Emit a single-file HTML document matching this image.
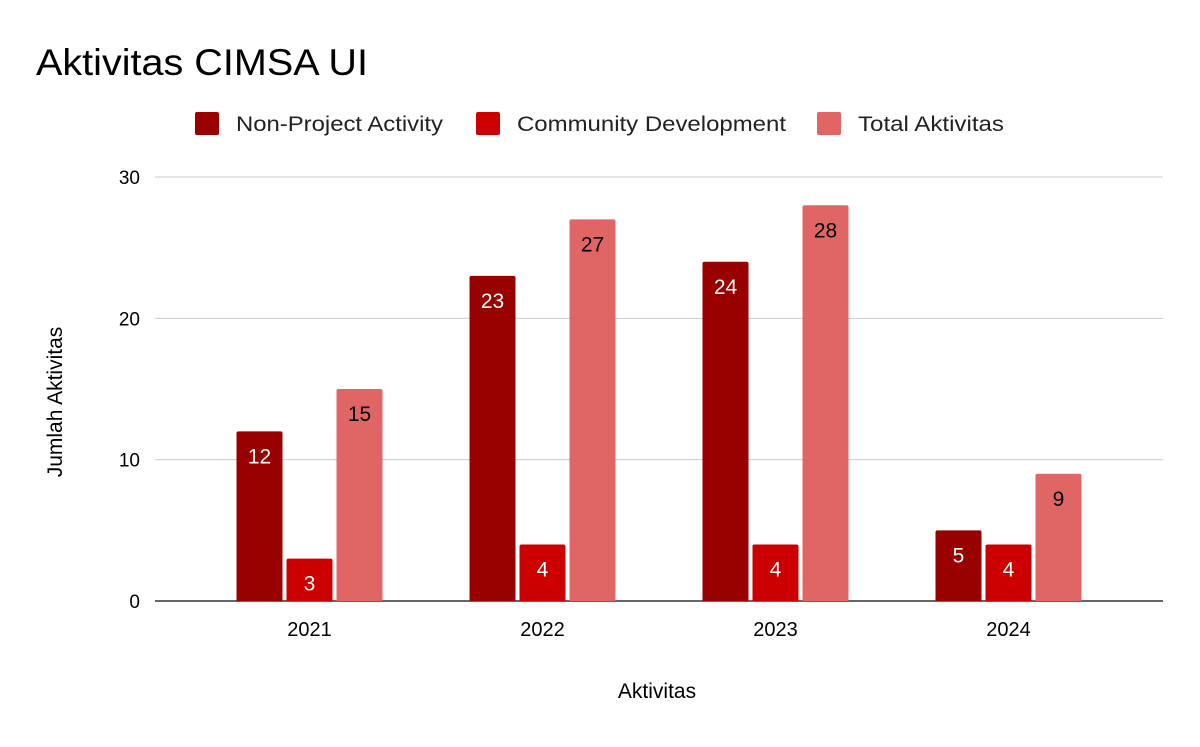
<!DOCTYPE html>
<html><head><meta charset="utf-8"><style>
body{margin:0;background:#fff;font-family:"Liberation Sans",sans-serif;}
svg text{font-family:"Liberation Sans",sans-serif;}
</style></head><body>
<svg id="chart" width="1200" height="742" xmlns="http://www.w3.org/2000/svg">
<rect width="1200" height="742" fill="#fff"/>
<text x="36" y="75" font-size="37" fill="#000" textLength="332" lengthAdjust="spacingAndGlyphs">Aktivitas CIMSA UI</text>
<g id="legend"></g>
<g id="grid"></g>
<g id="bars"></g>
<text x="657" y="698" font-size="21" text-anchor="middle">Aktivitas</text>
<text transform="translate(62,402) rotate(-90)" font-size="21" text-anchor="middle">Jumlah Aktivitas</text>
</svg>
<script>
const categories=["2021","2022","2023","2024"];
const seriesNames=["Non-Project Activity","Community Development","Total Aktivitas"];
const nonProject=[12,23,24,5];
const community=[3,4,4,4];
const total=[15,27,28,9];
const yTicks=[0,10,20,30];
const colors=["#990000","#cc0000","#e06666"];
const labelColors=["#fff","#fff","#000"];
const legendLens=[207,269,146];
const NS="http://www.w3.org/2000/svg";
const left=155,right=1163,y0=601,yTop=177,yMax=30;
const y=v=>y0-(v/yMax)*(y0-yTop);
const groupW=233,offset=left+38;
const cx=i=>offset+groupW/2+i*groupW;
function mk(t,a){const e=document.createElementNS(NS,t);for(const k in a)e.setAttribute(k,a[k]);return e;}
const grid=document.getElementById('grid');
yTicks.forEach(t=>{
  const l=mk('line',{x1:left,x2:right,y1:y(t),y2:y(t),stroke:t===0?'#333':'#ccc','stroke-width':t===0?1.5:1});
  
  
  grid.appendChild(l);
  const tx=mk('text',{x:140,y:y(t)+7,'font-size':19,'text-anchor':'end'});tx.textContent=t;
  
  
  grid.appendChild(tx);
});
const bars=document.getElementById('bars');
const series=[nonProject,community,total];
categories.forEach((c,i)=>{
  const tx=mk('text',{x:cx(i),y:636,'font-size':20,'text-anchor':'middle'});tx.textContent=c;
  
  
  bars.appendChild(tx);
  series.forEach((s,j)=>{
    const bx=cx(i)+(j-1)*50-23, v=s[i];
    const r=mk('path',{d:`M${bx},${y0} V${y(v)+2} Q${bx},${y(v)} ${bx+2},${y(v)} H${bx+44} Q${bx+46},${y(v)} ${bx+46},${y(v)+2} V${y0} Z`,fill:colors[j]});
    
    
    bars.appendChild(r);
    const lb=mk('text',{x:bx+23,y:y(v)+32,'font-size':21,'text-anchor':'middle',fill:labelColors[j]});lb.textContent=v;
    
    
    bars.appendChild(lb);
  });
});
const lg=document.getElementById('legend');
const lx=[195,476,817];
seriesNames.forEach((n,j)=>{
  const r=mk('rect',{x:lx[j],y:112,width:24,height:23,rx:2,fill:colors[j]});
  
  
  lg.appendChild(r);
  const t=mk('text',{x:lx[j]+41,y:131,'font-size':21,fill:'#222',textLength:legendLens[j],lengthAdjust:'spacingAndGlyphs'});t.textContent=n;
  
  
  lg.appendChild(t);
});
</script>
</body></html>
